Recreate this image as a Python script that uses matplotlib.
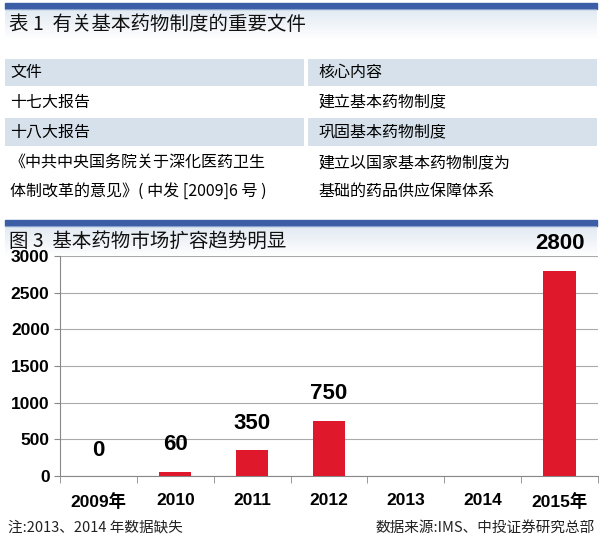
import numpy as np
import matplotlib.pyplot as plt
from matplotlib.patches import Rectangle

cjk = ['Noto Sans CJK SC', 'Noto Sans CJK JP', 'Noto Sans CJK TC', 'Noto Sans CJK KR']
plt.rcParams['font.family'] = ['Liberation Sans'] + cjk

years = ['2009年', '2010', '2011', '2012', '2013', '2014', '2015年']
values = [0, 60, 350, 750, None, None, 2800]
yticks = [0, 500, 1000, 1500, 2000, 2500, 3000]

table_title = '表 1  有关基本药物制度的重要文件'
table_rows = [
    ('文件', '核心内容'),
    ('十七大报告', '建立基本药物制度'),
    ('十八大报告', '巩固基本药物制度'),
    ('《中共中央国务院关于深化医药卫生\n体制改革的意见》( 中发 [2009]6 号 )',
     '建立以国家基本药物制度为\n基础的药品供应保障体系'),
]
chart_title = '图 3  基本药物市场扩容趋势明显'
note = '注:2013、2014 年数据缺失'
source = '数据来源:IMS、中投证券研究总部'

W, H = 600, 549
fig = plt.figure(figsize=(W / 100, H / 100), dpi=100)

# background layer in pixel coordinates
bg = fig.add_axes([0, 0, 1, 1])
bg.set_xlim(0, W)
bg.set_ylim(H, 0)
bg.axis('off')

blue = '#3C5EA6'
band = '#D6E1EB'

def title_block(y0, text):
    bg.add_patch(Rectangle((5, y0), 592, 6, color=blue))
    # faded band under the title
    for i in range(30):
        a = 0.55 * (1 - i / 30)
        bg.add_patch(Rectangle((5, y0 + 6 + i), 592, 1, color='#C9D8E8', alpha=a, lw=0))
    bg.text(9, y0 + 21, text, fontsize=14, family=cjk, va='center', color='#111111')

title_block(3, table_title)

row_y = [59, 88, 118, 148]
row_h = [29, 30, 30, 60]
for i, (left, right) in enumerate(table_rows):
    y, h = row_y[i], row_h[i]
    if i % 2 == 0:
        bg.add_patch(Rectangle((5, y), 299, h - 2, color=band, lw=0))
        bg.add_patch(Rectangle((308, y), 289, h - 2, color=band, lw=0))
    bg.text(10, y + h / 2 - 1, left, fontsize=11.5, family=cjk, va='center', linespacing=1.9)
    bg.text(318, y + h / 2 - 1, right, fontsize=11.5, family=cjk, va='center', linespacing=1.9)

title_block(220, chart_title)

bg.text(8, 528, note, fontsize=10.5, family=cjk, va='center', color='#222222')
bg.text(595, 528, source, fontsize=10.5, family=cjk, va='center', ha='right', color='#222222')

# chart
ax = fig.add_axes([60 / W, 1 - 476 / H, 538 / W, 220 / H])
ax.patch.set_alpha(0)
x = np.arange(len(years))
heights = [v if v is not None else 0 for v in values]
ax.bar(x, heights, width=0.42, color='#E0182B', zorder=3)
for xi, v in zip(x, values):
    if v is None:
        continue
    ax.annotate(str(v), (xi, v), xytext=(0, 12 if v > 0 else 18), textcoords='offset points',
                ha='center', va='bottom' if v > 0 else 'center', fontsize=16, fontweight='bold')
ax.set_xlim(-0.5, len(years) - 0.5)
ax.set_ylim(0, 3000)
ax.set_yticks(yticks)
ax.set_xticks(x)
ax.set_xticklabels(years)
ax.set_xticks(np.arange(len(years) + 1) - 0.5, minor=True)
ax.tick_params(axis='x', which='major', length=0, pad=12)
ax.tick_params(axis='x', which='minor', length=5, color='#888888')
ax.tick_params(axis='y', length=4, color='#888888')
for lab in ax.get_xticklabels() + ax.get_yticklabels():
    lab.set_fontweight('bold')
    lab.set_fontsize(12.5)
ax.grid(axis='y', color='#AAAAAA', lw=0.8, zorder=0)
for s in ['top', 'right']:
    ax.spines[s].set_visible(False)
ax.spines['left'].set_color('#888888')
ax.spines['bottom'].set_color('#888888')

fig.savefig('out.png', dpi=100)
